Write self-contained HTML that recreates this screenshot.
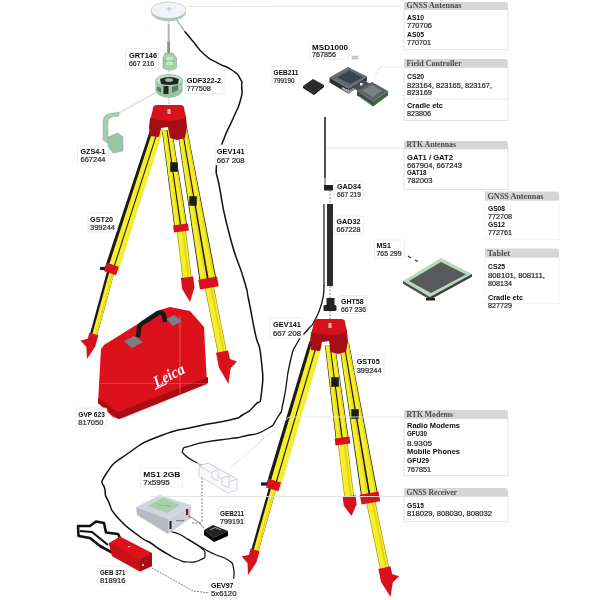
<!DOCTYPE html>
<html><head><meta charset="utf-8"><title>diagram</title>
<style>
html,body{margin:0;padding:0;background:#fff;}
body{width:600px;height:600px;overflow:hidden;font-family:"Liberation Sans",sans-serif;}
svg{display:block;font-family:"Liberation Sans",sans-serif;filter:blur(0.35px);}
</style></head><body>
<svg width="600" height="600" viewBox="0 0 600 600">
<rect width="600" height="600" fill="#fff"/>
<path d="M176,19 L185,31.7" stroke="#9aa39d" stroke-width="1.2" fill="none"/>
<g fill="none" stroke="#111" stroke-linecap="round">
<path d="M185.0,31.7 C187.8,35.0 186.6,33.9 193.3,41.7 C200.0,49.5 196.7,47.8 205.0,55.0 C213.3,62.2 209.4,58.3 218.3,63.3 C227.2,68.3 224.5,65.0 231.7,70.0 C238.9,75.0 236.7,72.6 240.0,78.3 C243.3,84.0 241.5,79.8 241.7,87.0 C241.9,94.2 243.3,89.7 240.5,100.0 C237.7,110.3 239.0,104.7 233.3,118.0 C227.6,131.3 229.0,125.0 223.5,140.0 C218.0,155.0 217.9,146.3 216.7,163.0 C215.5,179.7 215.6,165.4 220.0,190.0 C224.4,214.6 222.0,206.7 230.0,236.7 C238.0,266.7 237.8,258.9 244.0,280.0 C250.2,301.1 245.0,282.5 248.7,300.0 C252.4,317.5 250.9,313.3 255.0,332.5 C259.1,351.7 258.8,337.5 261.0,357.5 C263.2,377.5 263.5,376.7 261.5,392.5 C259.5,408.3 261.3,397.5 255.0,405.0 C248.7,412.5 250.8,410.0 242.5,415.0 C234.2,420.0 245.8,416.1 230.0,420.0 C214.2,423.9 218.3,421.4 195.0,426.7 C171.7,432.0 181.7,427.6 160.0,436.0 C138.3,444.4 148.0,439.3 130.0,452.0 C112.0,464.7 114.3,461.3 106.0,474.0 C97.7,486.7 104.1,480.7 105.0,490.0 C105.9,499.3 104.4,492.7 108.7,502.0 C113.0,511.3 107.9,506.7 118.0,518.0 C128.1,529.3 128.3,527.8 139.0,536.0 C149.7,544.2 143.0,538.0 150.0,542.5 C157.0,547.0 153.3,545.2 160.0,549.5 C166.7,553.8 166.7,553.5 170.0,555.5" stroke-width="1.5"/>
<path d="M324.0,286.0 C323.3,291.3 325.0,290.7 322.0,302.0 C319.0,313.3 319.8,310.7 315.0,320.0 C310.2,329.3 313.3,322.5 307.5,330.0 C301.7,337.5 303.3,331.7 297.5,342.5 C291.7,353.3 294.6,343.3 290.0,362.5 C285.4,381.7 287.9,381.7 283.7,400.0 C279.5,418.3 283.7,407.5 277.5,417.5 C271.3,427.5 275.8,423.8 265.0,430.0 C254.2,436.2 256.7,433.1 245.0,436.0 C233.3,438.9 242.8,436.8 230.0,438.7 C217.2,440.6 220.0,439.4 206.7,441.8 C193.4,444.2 197.9,443.4 190.0,446.0 C182.1,448.6 184.3,446.2 183.0,449.5 C181.7,452.8 181.3,451.6 186.0,456.0 C190.7,460.4 193.3,460.5 197.0,462.8" stroke-width="1.3"/>
</g>
<path d="M197,463 L209,469" stroke="#bbb" stroke-width="1.5" fill="none"/>
<line x1="169" y1="18" x2="169" y2="112" stroke="#9ab" stroke-width="0.8" stroke-dasharray="2,1.5"/>
<line x1="181" y1="228" x2="187.34" y2="280.16" stroke="#9a8c14" stroke-width="9.2"/>
<line x1="181.00" y1="228.00" x2="187.34" y2="280.16" stroke="#f7ee2a" stroke-width="8"/>
<line x1="182.59" y1="227.81" x2="188.93" y2="279.97" stroke="#e6d51a" stroke-width="2.00"/>
<polygon points="162.05,130.71 171.95,129.29 187.43,227.08 174.57,228.92" fill="#1a1a1a"/>
<polygon points="162.55,130.64 166.51,130.07 180.36,228.09 175.21,228.83" fill="#f7ee2a"/>
<polygon points="165.32,130.24 166.11,130.13 179.84,228.17 178.81,228.31" fill="#e6d51a"/>
<polygon points="167.49,129.93 171.45,129.36 186.79,227.17 181.64,227.91" fill="#f7ee2a"/>
<polygon points="170.27,129.53 171.06,129.42 186.28,227.25 185.25,227.39" fill="#e6d51a"/>
<rect x="170.2" y="162.2" width="7.6" height="9.6" fill="#1c1c1c"/>
<line x1="180.51" y1="224.54" x2="181.49" y2="231.46" stroke="#d8121c" stroke-width="15"/>
<polygon points="193.14,276.43 180.83,277.93 182.19,289.10 190.00,302.00 194.49,287.60" fill="#d8121c"/>
<line x1="111.5" y1="269" x2="93.04" y2="336.81" stroke="#1a1a1a" stroke-width="7.4"/>
<line x1="112.56" y1="269.29" x2="94.10" y2="337.10" stroke="#f7ee2a" stroke-width="5"/>
<line x1="113.53" y1="269.55" x2="95.07" y2="337.36" stroke="#e6d51a" stroke-width="1.25"/>
<polygon points="151.29,126.16 162.71,129.84 117.92,271.07 105.08,266.93" fill="#1a1a1a"/>
<polygon points="153.92,127.00 158.03,128.33 112.66,269.37 108.03,267.88" fill="#f7ee2a"/>
<polygon points="158.94,128.63 163.05,129.95 118.31,271.20 113.68,269.70" fill="#f7ee2a"/>
<rect x="100" y="266.9" width="9" height="3.2" fill="#1c1c1c"/>
<line x1="112.88" y1="264.72" x2="110.12" y2="273.28" stroke="#d8121c" stroke-width="12.5"/>
<polygon points="98.36,335.15 89.29,332.68 86.22,343.97 87.00,359.00 95.29,346.44" fill="#d8121c"/>
<polygon points="92.80,337.68 80.43,340.50 89.39,350.22" fill="#d8121c"/>
<line x1="208.5" y1="283" x2="222.67" y2="354.57" stroke="#9a8c14" stroke-width="9.2"/>
<line x1="208.50" y1="283.00" x2="222.67" y2="354.57" stroke="#f7ee2a" stroke-width="8"/>
<line x1="210.07" y1="282.69" x2="224.24" y2="354.26" stroke="#e6d51a" stroke-width="2.00"/>
<polygon points="177.07,128.84 186.93,127.16 216.88,281.57 200.12,284.43" fill="#1a1a1a"/>
<polygon points="177.56,128.76 181.51,128.08 207.66,283.14 200.96,284.29" fill="#f7ee2a"/>
<polygon points="180.32,128.29 181.11,128.15 206.99,283.26 205.65,283.49" fill="#e6d51a"/>
<polygon points="182.49,127.92 186.44,127.24 216.04,281.71 209.34,282.86" fill="#f7ee2a"/>
<polygon points="185.25,127.44 186.04,127.31 215.37,281.83 214.03,282.05" fill="#e6d51a"/>
<rect x="189.2" y="196.2" width="7.6" height="9.6" fill="#1c1c1c"/>
<line x1="207.66" y1="278.07" x2="209.34" y2="287.93" stroke="#d8121c" stroke-width="19"/>
<polygon points="228.17,350.42 216.01,352.83 218.89,367.40 228.50,384.00 231.06,364.99" fill="#d8121c"/>
<polygon points="223.05,356.48 236.98,361.46 226.26,372.67" fill="#d8121c"/>
<path d="M154,109 L150,119 L149,127 L150,136 L159,137 L161,128 L168,127 L170,138 L177,140 L185,138 L187,127 L186,117 L183,109 Z" fill="#a50e16"/>
<path d="M153,108 Q153,105 157,105 L180,105 Q184,105 184,108 L186,118 Q169,124 151,118 Z" fill="#d8121c"/>
<rect x="167.5" y="109" width="3" height="5" fill="#f7c0c0"/>
<ellipse cx="168.5" cy="12" rx="17.5" ry="9.2" fill="#a9c9b1"/>
<ellipse cx="168.5" cy="10.2" rx="17.5" ry="8.3" fill="#f2f2f9" stroke="#b5c6ba" stroke-width="0.7"/>
<path d="M166,9 h6 M169,7 v4" stroke="#9aa" stroke-width="0.6"/>
<rect x="167.6" y="24" width="2" height="19" fill="#b4b8b6"/>
<rect x="167.2" y="42" width="2.8" height="11" fill="#8c918e"/>
<path d="M165,53 h8 l3.5,5 v10 q-7.5,4 -13.5,0 v-10 z" fill="#a5d0aa" stroke="#7ea888" stroke-width="0.6"/>
<rect x="166.5" y="57" width="6" height="8" fill="#c9e6cd"/>
<path d="M163.5,61 h11" stroke="#6f9a79" stroke-width="0.7"/>
<ellipse cx="169" cy="89" rx="13.8" ry="9" fill="#98c4a2"/>
<rect x="155.3" y="79" width="27.4" height="10" rx="3" fill="#a4cbad"/>
<ellipse cx="169" cy="80.5" rx="13.5" ry="6" fill="#bfe0c6" stroke="#7d9d86" stroke-width="0.6"/>
<path d="M160,79 Q169,75 179,79 L178,84 Q169,86 161,84 Z" fill="#1f2a24"/>
<ellipse cx="169" cy="80" rx="4" ry="1.8" fill="#9fc7a9"/>
<rect x="163.5" y="86" width="5" height="8" fill="#1f2a24"/>
<path d="M172,87 l6,-2 v5 l-6,3 z" fill="#5b7a63"/>
<path d="M157,86 l4,2 v5 l-4,-3 z" fill="#5b7a63"/>
<line x1="157" y1="92" x2="119" y2="113" stroke="#b5c9ba" stroke-width="0.9"/>
<path d="M119,112 L108,114 Q103,116 103,122 L103,140 L108,143 L108,122 Q108,118 112,117 L119,116 Z" fill="#a9cdb2" stroke="#86a890" stroke-width="0.5"/>
<path d="M108,137 L118,133 L123,137 L123,151 L113,153 L108,147 Z" fill="#9cc3a6" stroke="#86a890" stroke-width="0.5"/>
<polygon points="101,349 104,345 160,310 170,307 190,311 204,327 207,384 120,419 113,417 98,403" fill="#dd111c"/>
<polygon points="98,398 118,412 208,377 208,383 118,419 98,403" fill="#a80d16"/>
<line x1="180" y1="316" x2="180" y2="394" stroke="#f08088" stroke-width="0.6"/>
<line x1="100" y1="383.5" x2="208" y2="383.5" stroke="#f0a0a5" stroke-width="0.5" opacity="0.6"/>
<polygon points="124,341 134,336 143,342 132,348" fill="#7b7e82"/>
<polygon points="166,319 174,315 182,321 173,326" fill="#7b7e82"/>
<path d="M138,337 L139,328 Q140,324 146,321 L158,313 Q163,311 164,316 L165,322" fill="none" stroke="#181818" stroke-width="4.6" stroke-linejoin="round"/>
<text transform="translate(156.5,387.5) rotate(-27)" font-family="Liberation Serif, serif" font-style="italic" font-weight="bold" font-size="16" fill="#fff" textLength="33" lengthAdjust="spacingAndGlyphs">Leica</text>
<line x1="155" y1="389.5" x2="167" y2="383.5" stroke="#fff" stroke-width="1.1"/>
<line x1="342.5" y1="441" x2="349.47" y2="499.12" stroke="#9a8c14" stroke-width="9.7"/>
<line x1="342.50" y1="441.00" x2="349.47" y2="499.12" stroke="#f7ee2a" stroke-width="8.5"/>
<line x1="344.19" y1="440.80" x2="351.16" y2="498.92" stroke="#e6d51a" stroke-width="2.12"/>
<polygon points="325.04,345.65 334.96,344.35 348.95,440.16 336.05,441.84" fill="#1a1a1a"/>
<polygon points="325.54,345.58 329.50,345.06 341.86,441.08 336.70,441.76" fill="#f7ee2a"/>
<polygon points="328.31,345.22 329.11,345.12 341.34,441.15 340.31,441.29" fill="#e6d51a"/>
<polygon points="330.50,344.94 334.46,344.42 348.30,440.24 343.14,440.92" fill="#f7ee2a"/>
<polygon points="333.27,344.57 334.07,344.47 347.79,440.31 346.75,440.45" fill="#e6d51a"/>
<rect x="331.2" y="377.2" width="7.6" height="9.6" fill="#1c1c1c"/>
<line x1="342.05" y1="437.53" x2="342.95" y2="444.47" stroke="#d8121c" stroke-width="15"/>
<polygon points="355.52,495.37 342.71,496.91 343.79,505.85 351.50,516.00 356.59,504.31" fill="#d8121c"/>
<line x1="273.5" y1="485" x2="254.27" y2="552.87" stroke="#1a1a1a" stroke-width="7.4"/>
<line x1="274.56" y1="485.30" x2="255.33" y2="553.17" stroke="#f7ee2a" stroke-width="5"/>
<line x1="275.52" y1="485.57" x2="256.29" y2="553.44" stroke="#e6d51a" stroke-width="1.25"/>
<polygon points="309.27,341.16 321.73,344.84 280.21,486.99 266.79,483.01" fill="#1a1a1a"/>
<polygon points="312.13,342.00 316.62,343.33 274.71,485.36 269.88,483.93" fill="#f7ee2a"/>
<polygon points="317.62,343.63 322.11,344.95 280.62,487.10 275.78,485.68" fill="#f7ee2a"/>
<rect x="261" y="482.4" width="9" height="3.2" fill="#1c1c1c"/>
<line x1="274.78" y1="480.68" x2="272.22" y2="489.32" stroke="#d8121c" stroke-width="13"/>
<polygon points="259.61,551.27 250.57,548.70 247.38,559.96 248.00,575.00 256.42,562.52" fill="#d8121c"/>
<polygon points="254.02,553.74 241.62,556.44 250.48,566.24" fill="#d8121c"/>
<line x1="370" y1="498" x2="385.03" y2="570.56" stroke="#9a8c14" stroke-width="9.2"/>
<line x1="370.00" y1="498.00" x2="385.03" y2="570.56" stroke="#f7ee2a" stroke-width="8"/>
<line x1="371.57" y1="497.68" x2="386.59" y2="570.24" stroke="#e6d51a" stroke-width="2.00"/>
<polygon points="339.07,343.83 348.93,342.17 378.38,496.59 361.62,499.41" fill="#1a1a1a"/>
<polygon points="339.56,343.74 343.51,343.08 369.16,498.14 362.46,499.27" fill="#f7ee2a"/>
<polygon points="342.32,343.28 343.11,343.15 368.49,498.25 367.15,498.48" fill="#e6d51a"/>
<polygon points="344.49,342.92 348.44,342.26 377.54,496.73 370.84,497.86" fill="#f7ee2a"/>
<polygon points="347.25,342.45 348.04,342.32 376.87,496.85 375.53,497.07" fill="#e6d51a"/>
<rect x="351.2" y="409.2" width="7.6" height="9.6" fill="#1c1c1c"/>
<line x1="369.17" y1="493.07" x2="370.83" y2="502.93" stroke="#d8121c" stroke-width="19"/>
<polygon points="390.49,566.37 378.35,568.88 381.08,582.10 390.50,597.00 393.23,579.59" fill="#d8121c"/>
<polygon points="385.33,572.03 399.16,576.21 388.37,586.72" fill="#d8121c"/>
<path d="M315,323 L311,333 L310,341 L311,350 L320,351 L322,342 L329,341 L331,352 L338,354 L346,352 L348,341 L347,331 L344,323 Z" fill="#a50e16"/>
<path d="M314,322 Q314,319 318,319 L341,319 Q345,319 345,322 L347,332 Q330,338 312,332 Z" fill="#d8121c"/>
<rect x="328.5" y="323" width="3" height="5" fill="#f7c0c0"/>
<line x1="330" y1="286" x2="330" y2="320" stroke="#667" stroke-width="0.8" stroke-dasharray="2,1.5"/>
<rect x="326.5" y="298" width="8" height="8" fill="#222"/>
<rect x="323.5" y="305" width="13" height="6" rx="1.5" fill="#222"/>
<rect x="327" y="204" width="6" height="82" fill="#2b2b2b"/>
<line x1="324" y1="204" x2="324" y2="286" stroke="#161616" stroke-width="1.2"/>
<line x1="330" y1="190" x2="330" y2="204" stroke="#667" stroke-width="0.8" stroke-dasharray="2,1.5"/>
<rect x="324" y="185" width="9" height="5.5" fill="#222"/>
<line x1="325" y1="117" x2="325" y2="178" stroke="#222" stroke-width="1.6"/>
<line x1="325" y1="178" x2="325" y2="186" stroke="#222" stroke-width="0.8"/>
<polygon points="329.5,77.5 348.5,88.5 348.5,93.8 329.5,82.5" fill="#2e3133"/>
<polygon points="348.5,88.5 367,76.5 367,81 348.5,93.8" fill="#3a3d40"/>
<polygon points="329.5,77.5 348,67 367,76.5 348.5,88.5" fill="#666b6f"/>
<polygon points="337,77.6 349.3,70.3 362.5,77.4 350.5,84" fill="#3a4552"/>
<polygon points="342,89.2 349,93 349,90.4 342,86.8" fill="#a9aeb1"/>
<polygon points="349,93 356,88.5 356,86 349,90.4" fill="#8f9497"/>
<polygon points="352,87 363,80 373,85 361,93" fill="#4a4e51"/>
<polygon points="357,90.5 373,101.5 373,106.5 357,95.5" fill="#3b4a40"/>
<polygon points="373,101.5 388,91 388,95.5 373,106.5" fill="#356a3b"/>
<polygon points="357,90.5 372,82 388,91 373,101.5" fill="#5d6265"/>
<polygon points="362,90.5 372,85 382,90.8 372.5,97" fill="#7b8083"/>
<rect x="360" y="83" width="2.5" height="2.5" fill="#f3e9ea"/>
<line x1="359" y1="96.3" x2="372" y2="105.3" stroke="#7fbf82" stroke-width="0.9"/>
<polygon points="303,86 313,79 324,85 314,93" fill="#2a2a2c"/>
<polygon points="303,86 314,93 314,95 303,88" fill="#111"/>
<polygon points="314,93 324,85 324,87 314,95" fill="#000"/>
<rect x="352" y="56" width="6" height="3" fill="#ccd" stroke="#99a" stroke-width="0.4"/>
<polygon points="403,281 441,258 472,274 430,297" fill="#b7d8bb"/>
<polygon points="403,281 430,297 430,299.8 403,283.8" fill="#4a4c4e"/>
<polygon points="430,297 472,274 472,276.8 430,299.8" fill="#3a3c3e"/>
<polygon points="409,281 441,262 466,274.5 431,293" fill="#58595d"/>
<rect x="426" y="298" width="9" height="2.5" fill="#222"/>
<path d="M408,256 l3,2 M415,260 l3,1.5" stroke="#333" stroke-width="1.2"/>
<line x1="202" y1="474" x2="202" y2="523" stroke="#666" stroke-width="0.9" stroke-dasharray="2,1.5"/>
<line x1="192" y1="523" x2="202" y2="523" stroke="#666" stroke-width="0.9" stroke-dasharray="2,1.5"/>
<g fill="#f8f8fa" stroke="#c6c9d0" stroke-width="0.8" stroke-linejoin="round"><polygon points="199,466 208,463 237,479 237,490 228,493 199,476"/><polygon points="199,466 208,463 237,479 228,482"/><polygon points="212,472 218,470 218,481 212,478"/><polygon points="222,478 229,476 229,488 222,485"/></g>
<polygon points="136,507 160,495 191,505 168,519" fill="#d3d5de"/>
<polygon points="136,507 168,519 168,534 137,515" fill="#b7bac5"/>
<polygon points="168,519 191,505 191,518 168,534" fill="#cdd0d8"/>
<polygon points="148,506 163,497.5 180,505 167,513" fill="#a3d1ab"/>
<line x1="158" y1="505" x2="171" y2="506" stroke="#d77" stroke-width="0.7"/>
<rect x="169.5" y="521" width="2" height="8" fill="#222"/><rect x="186" y="509" width="2.2" height="6" fill="#622"/><rect x="176" y="520" width="8" height="1.2" fill="#888"/>
<g fill="none" stroke="#161616" stroke-width="1.25" stroke-linecap="round">
<path d="M172.0,532.0 C174.7,532.8 174.7,532.0 180.0,534.5 C185.3,537.0 181.3,535.3 188.0,539.5 C194.7,543.7 194.3,542.2 200.0,547.0 C205.7,551.8 205.0,549.7 205.0,554.0 C205.0,558.3 205.7,557.3 200.0,560.0 C194.3,562.7 195.3,562.2 188.0,562.0 C180.7,561.8 184.0,561.7 178.0,559.5 C172.0,557.3 172.7,556.8 170.0,555.5"/>
<path d="M188.0,539.0 C192.0,541.5 191.3,541.5 200.0,546.5 C208.7,551.5 204.7,549.5 214.0,554.0 C223.3,558.5 221.5,555.3 228.0,560.0 C234.5,564.7 231.7,561.3 233.5,568.0 C235.3,574.7 233.5,576.0 233.5,580.0"/>
</g>
<path d="M152,568 L193,591 L210,593" fill="none" stroke="#777" stroke-width="0.9" stroke-dasharray="2,1"/>
<path d="M188,516 C195,519 199,522 204,528" fill="none" stroke="#555" stroke-width="0.8"/>
<polygon points="204,530 213,525 228,531 214,537.5" fill="#222224"/>
<polygon points="204,530 214,537.5 214,542 204,535" fill="#0c0c0c"/>
<polygon points="214,537.5 228,531 228,536 214,542" fill="#000"/>
<path d="M210,530 l5,-2.5 l6,2.5" stroke="#ddd" stroke-width="0.7" fill="none"/>
<path d="M121,540 L118,534 L106,532.5 L104,523 L96,521.5 L90,526 L78,526 L78.5,536 L90,538 L100,546 L112,552.5" fill="#fff" stroke="#121212" stroke-width="2.6" stroke-linejoin="round"/>
<path d="M80,531 L92,532 L108,545" fill="none" stroke="#121212" stroke-width="2.2"/>
<polygon points="109,543 120,536.5 152,553 152,566 140,571.5 112,556" fill="#dc121c"/>
<polygon points="109,543 140,559.5 140,571.5 112,556" fill="#c8101a"/>
<polygon points="140,559.5 152,553 152,566 140,571.5" fill="#a80d15"/>
<circle cx="143" cy="565" r="0.9" fill="#fff"/><rect x="128" y="546" width="2.4" height="1.2" fill="#f8b0b0"/>
<g fill="none" stroke="#e2e2e2" stroke-width="0.9">
<path d="M375,75 L380,67 L404,67"/>
<path d="M326,148 L404,148"/>
<path d="M230,468 L289,417 L404,417"/>
<path d="M150,496.5 L404,496.5"/>
<path d="M187,6.5 L404,6"/>
</g>
<rect x="125.5" y="48.5" width="33" height="20" rx="2" fill="#fff" stroke="#e9e9e9" stroke-width="0.8"/>
<text x="129" y="57.5" font-size="6.6" font-weight="bold" fill="#0c0c0c" textLength="28" lengthAdjust="spacingAndGlyphs">GRT146</text>
<text x="129" y="66.3" font-size="6.3999999999999995" fill="#1c1c1c" stroke="#333" stroke-width="0.2" textLength="25" lengthAdjust="spacingAndGlyphs">667 216</text>
<rect x="185.5" y="74.5" width="38.5" height="19" rx="2" fill="#fff" stroke="#e9e9e9" stroke-width="0.8"/>
<text x="186.7" y="83.0" font-size="6.6" font-weight="bold" fill="#0c0c0c" textLength="34.5" lengthAdjust="spacingAndGlyphs">GDF322-2</text>
<text x="186.7" y="91.4" font-size="6.3999999999999995" fill="#1c1c1c" stroke="#333" stroke-width="0.2" textLength="24" lengthAdjust="spacingAndGlyphs">777508</text>
<rect x="77.5" y="146" width="31" height="18" rx="2" fill="#fff" stroke="#e9e9e9" stroke-width="0.8"/>
<text x="80.5" y="154.1" font-size="6.6" font-weight="bold" fill="#0c0c0c" textLength="25" lengthAdjust="spacingAndGlyphs">GZS4-1</text>
<text x="80.5" y="162.0" font-size="6.3999999999999995" fill="#1c1c1c" stroke="#333" stroke-width="0.2" textLength="25" lengthAdjust="spacingAndGlyphs">667244</text>
<rect x="215" y="145" width="32" height="20" rx="2" fill="#fff" stroke="#e9e9e9" stroke-width="0.8"/>
<text x="216.7" y="154.0" font-size="6.6" font-weight="bold" fill="#0c0c0c" textLength="28" lengthAdjust="spacingAndGlyphs">GEV141</text>
<text x="216.7" y="162.8" font-size="6.3999999999999995" fill="#1c1c1c" stroke="#333" stroke-width="0.2" textLength="28" lengthAdjust="spacingAndGlyphs">667 208</text>
<rect x="88" y="213" width="29" height="19" rx="2" fill="#fff" stroke="#e9e9e9" stroke-width="0.8"/>
<text x="90" y="221.6" font-size="6.6" font-weight="bold" fill="#0c0c0c" textLength="23" lengthAdjust="spacingAndGlyphs">GST20</text>
<text x="90" y="229.9" font-size="6.3999999999999995" fill="#1c1c1c" stroke="#333" stroke-width="0.2" textLength="25" lengthAdjust="spacingAndGlyphs">399244</text>
<rect x="76" y="408" width="31" height="19" rx="2" fill="#fff" stroke="#e9e9e9" stroke-width="0.8"/>
<text x="78.3" y="416.6" font-size="6.6" font-weight="bold" fill="#0c0c0c" textLength="26.5" lengthAdjust="spacingAndGlyphs">GVP 623</text>
<text x="78.3" y="424.9" font-size="6.3999999999999995" fill="#1c1c1c" stroke="#333" stroke-width="0.2" textLength="25" lengthAdjust="spacingAndGlyphs">817050</text>
<rect x="270" y="318" width="33" height="20" rx="2" fill="#fff" stroke="#e9e9e9" stroke-width="0.8"/>
<text x="273" y="327.0" font-size="6.6" font-weight="bold" fill="#0c0c0c" textLength="28" lengthAdjust="spacingAndGlyphs">GEV141</text>
<text x="273" y="335.8" font-size="6.3999999999999995" fill="#1c1c1c" stroke="#333" stroke-width="0.2" textLength="28" lengthAdjust="spacingAndGlyphs">667 208</text>
<rect x="355" y="355" width="29" height="20" rx="2" fill="#fff" stroke="#e9e9e9" stroke-width="0.8"/>
<text x="356.7" y="364.0" font-size="6.6" font-weight="bold" fill="#0c0c0c" textLength="23" lengthAdjust="spacingAndGlyphs">GST05</text>
<text x="356.7" y="372.8" font-size="6.3999999999999995" fill="#1c1c1c" stroke="#333" stroke-width="0.2" textLength="25" lengthAdjust="spacingAndGlyphs">399244</text>
<rect x="338.5" y="295.5" width="29" height="18" rx="2" fill="#fff" stroke="#e9e9e9" stroke-width="0.8"/>
<text x="341" y="303.6" font-size="6.6" font-weight="bold" fill="#0c0c0c" textLength="22.7" lengthAdjust="spacingAndGlyphs">GHT58</text>
<text x="341" y="311.5" font-size="6.3999999999999995" fill="#1c1c1c" stroke="#333" stroke-width="0.2" textLength="25" lengthAdjust="spacingAndGlyphs">667 236</text>
<rect x="334.5" y="181" width="29" height="18" rx="2" fill="#fff" stroke="#e9e9e9" stroke-width="0.8"/>
<text x="337" y="189.1" font-size="6.6" font-weight="bold" fill="#0c0c0c" textLength="24" lengthAdjust="spacingAndGlyphs">GAD34</text>
<text x="337" y="197.0" font-size="6.3999999999999995" fill="#1c1c1c" stroke="#333" stroke-width="0.2" textLength="24" lengthAdjust="spacingAndGlyphs">667 219</text>
<rect x="334.5" y="216" width="29" height="18" rx="2" fill="#fff" stroke="#e9e9e9" stroke-width="0.8"/>
<text x="336.5" y="224.1" font-size="6.6" font-weight="bold" fill="#0c0c0c" textLength="24" lengthAdjust="spacingAndGlyphs">GAD32</text>
<text x="336.5" y="232.0" font-size="6.3999999999999995" fill="#1c1c1c" stroke="#333" stroke-width="0.2" textLength="24" lengthAdjust="spacingAndGlyphs">667228</text>
<rect x="374.5" y="240" width="30" height="18" rx="2" fill="#fff" stroke="#e9e9e9" stroke-width="0.8"/>
<text x="376.5" y="248.1" font-size="6.6" font-weight="bold" fill="#0c0c0c" textLength="14.5" lengthAdjust="spacingAndGlyphs">MS1</text>
<text x="376.5" y="256.0" font-size="6.3999999999999995" fill="#1c1c1c" stroke="#333" stroke-width="0.2" textLength="25" lengthAdjust="spacingAndGlyphs">765 299</text>
<rect x="310" y="42" width="39" height="17" rx="2" fill="#fff" stroke="#e9e9e9" stroke-width="0.8"/>
<text x="312" y="49.6" font-size="6.6" font-weight="bold" fill="#0c0c0c" textLength="36" lengthAdjust="spacingAndGlyphs">MSD1000</text>
<text x="312" y="57.1" font-size="6.3999999999999995" fill="#1c1c1c" stroke="#333" stroke-width="0.2" textLength="24" lengthAdjust="spacingAndGlyphs">767856</text>
<rect x="272" y="67" width="29" height="18" rx="2" fill="#fff" stroke="#e9e9e9" stroke-width="0.8"/>
<text x="273.5" y="75.1" font-size="6.6" font-weight="bold" fill="#0c0c0c" textLength="25" lengthAdjust="spacingAndGlyphs">GEB211</text>
<text x="273.5" y="83.0" font-size="6.3999999999999995" fill="#1c1c1c" stroke="#333" stroke-width="0.2" textLength="21" lengthAdjust="spacingAndGlyphs">799190</text>
<rect x="140.5" y="468" width="42" height="19" rx="2" fill="#fff" stroke="#e9e9e9" stroke-width="0.8"/>
<text x="143.3" y="476.6" font-size="6.6" font-weight="bold" fill="#0c0c0c" textLength="37" lengthAdjust="spacingAndGlyphs">MS1 2GB</text>
<text x="143.3" y="484.9" font-size="6.3999999999999995" fill="#1c1c1c" stroke="#333" stroke-width="0.2" textLength="26.5" lengthAdjust="spacingAndGlyphs">7x5995</text>
<rect x="218" y="507" width="27" height="19" rx="2" fill="#fff" stroke="#e9e9e9" stroke-width="0.8"/>
<text x="220" y="515.5" font-size="6.6" font-weight="bold" fill="#0c0c0c" textLength="24" lengthAdjust="spacingAndGlyphs">GEB211</text>
<text x="220" y="523.9" font-size="6.3999999999999995" fill="#1c1c1c" stroke="#333" stroke-width="0.2" textLength="24" lengthAdjust="spacingAndGlyphs">799191</text>
<rect x="98" y="566" width="29" height="19" rx="2" fill="#fff" stroke="#e9e9e9" stroke-width="0.8"/>
<text x="100" y="574.5" font-size="6.6" font-weight="bold" fill="#0c0c0c" textLength="25.5" lengthAdjust="spacingAndGlyphs">GEB 371</text>
<text x="100" y="582.9" font-size="6.3999999999999995" fill="#1c1c1c" stroke="#333" stroke-width="0.2" textLength="25.5" lengthAdjust="spacingAndGlyphs">818916</text>
<rect x="209" y="579" width="30" height="19" rx="2" fill="#fff" stroke="#e9e9e9" stroke-width="0.8"/>
<text x="211" y="587.5" font-size="6.6" font-weight="bold" fill="#0c0c0c" textLength="22.5" lengthAdjust="spacingAndGlyphs">GEV97</text>
<text x="211" y="595.9" font-size="6.3999999999999995" fill="#1c1c1c" stroke="#333" stroke-width="0.2" textLength="25.5" lengthAdjust="spacingAndGlyphs">5x6120</text>
<rect x="404" y="9.5" width="104" height="40" fill="#fff" stroke="#dcdcdc" stroke-width="0.8"/>
<path d="M404,9.5 L404,2 L505,2 Q508,2 508,5 L508,9.5 Z" fill="#d6d6d6"/>
<text x="406.5" y="7.9" font-size="7.4" font-weight="bold" fill="#4a4a4a" font-family="Liberation Serif, serif" textLength="55" lengthAdjust="spacingAndGlyphs">GNSS Antennas</text>
<text x="407" y="19.8" font-size="7" font-weight="bold" fill="#0c0c0c" textLength="17" lengthAdjust="spacingAndGlyphs">AS10</text>
<text x="407" y="28.2" font-size="6.8" fill="#1c1c1c" stroke="#333" stroke-width="0.2" textLength="25" lengthAdjust="spacingAndGlyphs">770706</text>
<text x="407" y="37" font-size="7" font-weight="bold" fill="#0c0c0c" textLength="17" lengthAdjust="spacingAndGlyphs">AS05</text>
<text x="407" y="45" font-size="6.8" fill="#1c1c1c" stroke="#333" stroke-width="0.2" textLength="24" lengthAdjust="spacingAndGlyphs">770701</text>
<rect x="404" y="67.5" width="104" height="53" fill="#fff" stroke="#dcdcdc" stroke-width="0.8"/>
<path d="M404,67.5 L404,59 L505,59 Q508,59 508,62 L508,67.5 Z" fill="#d6d6d6"/>
<text x="406.5" y="65.9" font-size="7.4" font-weight="bold" fill="#4a4a4a" font-family="Liberation Serif, serif" textLength="55" lengthAdjust="spacingAndGlyphs">Field Controller</text>
<text x="407" y="79.3" font-size="7" font-weight="bold" fill="#0c0c0c" textLength="17" lengthAdjust="spacingAndGlyphs">CS20</text>
<text x="407" y="87.6" font-size="6.8" fill="#1c1c1c" stroke="#333" stroke-width="0.2" textLength="85" lengthAdjust="spacingAndGlyphs">823164, 823165, 823167,</text>
<text x="407" y="95.3" font-size="6.8" fill="#1c1c1c" stroke="#333" stroke-width="0.2" textLength="25" lengthAdjust="spacingAndGlyphs">823169</text>
<text x="407" y="107.6" font-size="7" font-weight="bold" fill="#0c0c0c" textLength="36" lengthAdjust="spacingAndGlyphs">Cradle etc</text>
<text x="407" y="115.8" font-size="6.8" fill="#1c1c1c" stroke="#333" stroke-width="0.2" textLength="24" lengthAdjust="spacingAndGlyphs">823806</text>
<line x1="404" y1="99" x2="508" y2="99" stroke="#dedede" stroke-width="0.8"/>
<rect x="404" y="149" width="104" height="40.5" fill="#fff" stroke="#dcdcdc" stroke-width="0.8"/>
<path d="M404,149 L404,141 L505,141 Q508,141 508,144 L508,149 Z" fill="#d6d6d6"/>
<text x="406.5" y="147.4" font-size="7.4" font-weight="bold" fill="#4a4a4a" font-family="Liberation Serif, serif" textLength="49.5" lengthAdjust="spacingAndGlyphs">RTK Antennas</text>
<text x="407" y="159.6" font-size="7" font-weight="bold" fill="#0c0c0c" textLength="46" lengthAdjust="spacingAndGlyphs">GAT1 / GAT2</text>
<text x="407" y="167.6" font-size="6.8" fill="#1c1c1c" stroke="#333" stroke-width="0.2" textLength="55" lengthAdjust="spacingAndGlyphs">667904, 667243</text>
<text x="407" y="175.2" font-size="7" font-weight="bold" fill="#0c0c0c" textLength="19.5" lengthAdjust="spacingAndGlyphs">GAT18</text>
<text x="407" y="183.2" font-size="6.8" fill="#1c1c1c" stroke="#333" stroke-width="0.2" textLength="25.5" lengthAdjust="spacingAndGlyphs">782003</text>
<rect x="485" y="200.5" width="74" height="39" fill="#fff" stroke="#efefef" stroke-width="0.8"/>
<path d="M485,200.5 L485,191.5 L556,191.5 Q559,191.5 559,194.5 L559,200.5 Z" fill="#d6d6d6"/>
<text x="487.5" y="198.9" font-size="7.4" font-weight="bold" fill="#4a4a4a" font-family="Liberation Serif, serif" textLength="56" lengthAdjust="spacingAndGlyphs">GNSS Antennas</text>
<text x="488" y="210.6" font-size="7" font-weight="bold" fill="#0c0c0c" textLength="17" lengthAdjust="spacingAndGlyphs">GS08</text>
<text x="488" y="219" font-size="6.8" fill="#1c1c1c" stroke="#333" stroke-width="0.2" textLength="24" lengthAdjust="spacingAndGlyphs">772708</text>
<text x="488" y="227" font-size="7" font-weight="bold" fill="#0c0c0c" textLength="17" lengthAdjust="spacingAndGlyphs">GS12</text>
<text x="488" y="235.3" font-size="6.8" fill="#1c1c1c" stroke="#333" stroke-width="0.2" textLength="24" lengthAdjust="spacingAndGlyphs">772761</text>
<rect x="485" y="257.5" width="74" height="46" fill="#fff" stroke="#efefef" stroke-width="0.8"/>
<path d="M485,257.5 L485,248.5 L556,248.5 Q559,248.5 559,251.5 L559,257.5 Z" fill="#d6d6d6"/>
<text x="487.5" y="255.9" font-size="7.4" font-weight="bold" fill="#4a4a4a" font-family="Liberation Serif, serif" textLength="22.5" lengthAdjust="spacingAndGlyphs">Tablet</text>
<text x="488" y="268.5" font-size="7" font-weight="bold" fill="#0c0c0c" textLength="17" lengthAdjust="spacingAndGlyphs">CS25</text>
<text x="488" y="278" font-size="6.8" fill="#1c1c1c" stroke="#333" stroke-width="0.2" textLength="57" lengthAdjust="spacingAndGlyphs">808101, 808111,</text>
<text x="488" y="285.8" font-size="6.8" fill="#1c1c1c" stroke="#333" stroke-width="0.2" textLength="24" lengthAdjust="spacingAndGlyphs">808134</text>
<text x="488" y="299.8" font-size="7" font-weight="bold" fill="#0c0c0c" textLength="35" lengthAdjust="spacingAndGlyphs">Cradle etc</text>
<text x="488" y="307.8" font-size="6.8" fill="#1c1c1c" stroke="#333" stroke-width="0.2" textLength="24" lengthAdjust="spacingAndGlyphs">827729</text>
<rect x="404" y="418.5" width="104" height="57" fill="#fff" stroke="#dcdcdc" stroke-width="0.8"/>
<path d="M404,418.5 L404,410 L505,410 Q508,410 508,413 L508,418.5 Z" fill="#d6d6d6"/>
<text x="406.5" y="416.9" font-size="7.4" font-weight="bold" fill="#4a4a4a" font-family="Liberation Serif, serif" textLength="46.5" lengthAdjust="spacingAndGlyphs">RTK Modems</text>
<text x="407" y="427.7" font-size="7" font-weight="bold" fill="#0c0c0c" textLength="53" lengthAdjust="spacingAndGlyphs">Radio Modems</text>
<text x="407" y="436" font-size="7" font-weight="bold" fill="#0c0c0c" textLength="20" lengthAdjust="spacingAndGlyphs">GFU30</text>
<text x="407" y="445.8" font-size="6.8" fill="#1c1c1c" stroke="#333" stroke-width="0.2" textLength="25" lengthAdjust="spacingAndGlyphs">8.9305</text>
<text x="407" y="453.5" font-size="7" font-weight="bold" fill="#0c0c0c" textLength="53" lengthAdjust="spacingAndGlyphs">Mobile Phones</text>
<text x="407" y="463.2" font-size="7" font-weight="bold" fill="#0c0c0c" textLength="22" lengthAdjust="spacingAndGlyphs">GFU29</text>
<text x="407" y="471.7" font-size="6.8" fill="#1c1c1c" stroke="#333" stroke-width="0.2" textLength="24" lengthAdjust="spacingAndGlyphs">767851</text>
<rect x="404" y="496.5" width="104" height="25" fill="#fff" stroke="#dcdcdc" stroke-width="0.8"/>
<path d="M404,496.5 L404,488 L505,488 Q508,488 508,491 L508,496.5 Z" fill="#d6d6d6"/>
<text x="406.5" y="494.9" font-size="7.4" font-weight="bold" fill="#4a4a4a" font-family="Liberation Serif, serif" textLength="50.5" lengthAdjust="spacingAndGlyphs">GNSS Receiver</text>
<text x="407" y="507.5" font-size="7" font-weight="bold" fill="#0c0c0c" textLength="17" lengthAdjust="spacingAndGlyphs">GS15</text>
<text x="407" y="516" font-size="6.8" fill="#1c1c1c" stroke="#333" stroke-width="0.2" textLength="85" lengthAdjust="spacingAndGlyphs">818029, 808030, 808032</text>
</svg>
</body></html>
